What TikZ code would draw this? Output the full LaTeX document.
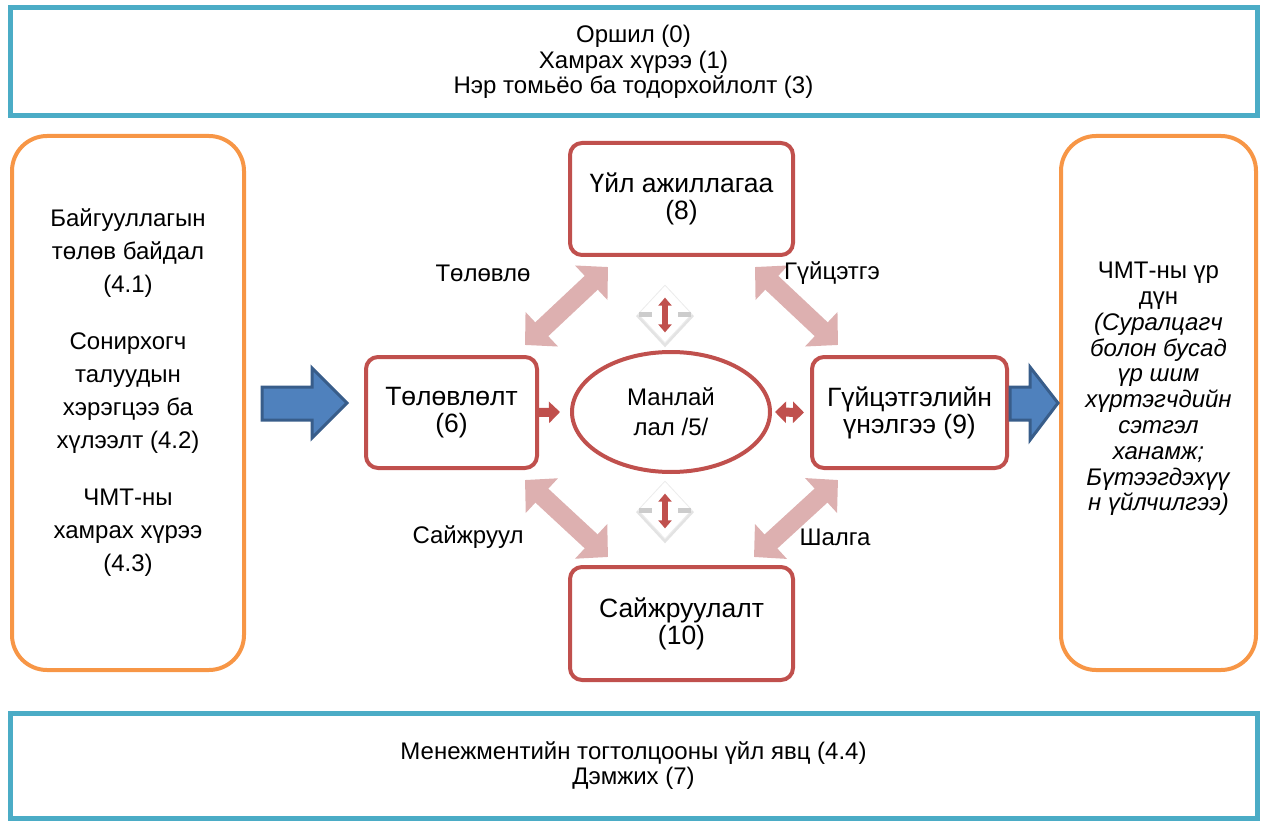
\documentclass[tikz,border=0pt]{standalone}
\usepackage{fontspec}
\setmainfont{Liberation Sans}
\usetikzlibrary{arrows.meta,shapes.geometric,shadows,calc}
\definecolor{tealc}{RGB}{75,172,198}
\definecolor{orangec}{RGB}{247,150,70}
\definecolor{redc}{RGB}{192,80,77}
\definecolor{pinkc}{RGB}{221,176,176}
\definecolor{bluefill}{RGB}{79,129,189}
\definecolor{blueline}{RGB}{56,93,138}
\begin{document}
\begin{tikzpicture}[x=1pt,y=-1pt,
  band/.style={draw=tealc, line width=5pt, minimum width=1247pt, inner sep=0pt,
    align=center, font=\fontsize{24}{25.5}\selectfont},
  sidebox/.style={draw=orangec, line width=4pt, rounded corners=35pt,
    minimum height=534pt, inner sep=0pt},
  stagebox/.style={draw=redc, line width=4pt, rounded corners=12pt, fill=white,
    align=center, inner sep=0pt, font=\fontsize{26.5}{27}\selectfont},
  plain/.style={align=center, inner sep=0pt, font=\fontsize{24}{25.5}\selectfont},
  cyclearrow/.style={draw=pinkc, line width=19pt,
    {Triangle[length=23pt,width=46pt]}-{Triangle[length=23pt,width=46pt]}},
  redtip/.style={draw=redc, line width=9pt},
  gem/.style={diamond, fill=white, draw=gray!14, line width=0.8pt, inner sep=0pt,
    minimum width=54pt, minimum height=58pt,
    drop shadow={shadow xshift=0pt, shadow yshift=-2pt, shadow scale=1.08, opacity=0.22}},
  bigarrow/.style={fill=bluefill, draw=blueline, line width=3pt, line join=miter}
]
\useasboundingbox (0,0) rectangle (1264,821);

% top and bottom bands
\node[band, minimum height=108pt] (intro) at (633.5,62)
  {Оршил (0)\\Хамрах хүрээ (1)\\Нэр томьёо ба тодорхойлолт (3)};
\node[band, minimum height=105pt] (support) at (633.5,765.5)
  {Менежментийн тогтолцооны үйл явц (4.4)\\Дэмжих (7)};

% context and results columns
\node[sidebox, minimum width=232pt] (context) at (128,403) {};
\node[plain, font=\fontsize{24}{33}\selectfont] (contexttext) at (128,393)
  {Байгууллагын\\төлөв байдал\\(4.1)\\[24pt]Сонирхогч\\талуудын\\хэрэгцээ ба\\хүлээлт (4.2)\\[24pt]ЧМТ-ны\\хамрах хүрээ\\(4.3)};
\node[sidebox, minimum width=195pt] (results) at (1158.5,403) {};
\node[plain, font=\fontsize{24}{25.8}\selectfont] (resultstext) at (1158.5,389)
  {ЧМТ-ны үр\\дүн\\\textit{(Суралцагч}\\\textit{болон бусад}\\\textit{үр шим}\\\textit{хүртэгчдийн}\\\textit{сэтгэл}\\\textit{ханамж;}\\\textit{Бүтээгдэхүү}\\\textit{н үйлчилгээ)}};

% PDCA stages
\node[stagebox, minimum width=223pt, minimum height=112pt] (act) at (681.5,199) {Үйл ажиллагаа\\(8)};
\node[stagebox, minimum width=171pt, minimum height=111pt] (plan) at (451.5,412.5) {Төлөвлөлт\\(6)};
\node[stagebox, minimum width=195pt, minimum height=111pt] (eval) at (909.5,412.5) {Гүйцэтгэлийн\\үнэлгээ (9)};
\node[stagebox, minimum width=223pt, minimum height=113pt] (impr) at (681.5,623.5) {Сайжруулалт\\(10)};
\node[ellipse, draw=redc, line width=4pt, fill=white, minimum width=198pt, minimum height=120pt,
  inner sep=0pt, align=center, font=\fontsize{24}{30}\selectfont] (leader) at (671,412) {Манлай\\лал /5/};

% cycle arrows
\draw[cyclearrow] ($(plan.north east)+(-14,-10)$) -- ($(act.south west)+(40,10)$);
\draw[cyclearrow] ($(act.south east)+(-40,10)$) -- ($(eval.north west)+(28,-10)$);
\draw[cyclearrow] ($(plan.south east)+(-14,10)$) -- ($(impr.north west)+(40,-8)$);
\draw[cyclearrow] ($(eval.south west)+(28,10)$) -- ($(impr.north east)+(-41,-8)$);

% cycle labels
\node[plain] (lplan) at (483,273) {Төлөвлө};
\node[plain] (ldo) at (832,273) {Гүйцэтгэ};
\node[plain] (lact) at (468,537) {Сайжруул};
\node[plain] (lcheck) at (835,537) {Шалга};

% links to the leadership ellipse
\draw[redtip, -{Triangle[length=11pt,width=21pt]}] (plan.east) -- ($(leader.west)+(-10,0)$);
\draw[redtip, {Triangle[length=11pt,width=21pt]}-{Triangle[length=11pt,width=21pt]}]
  ($(leader.east)+(3,0)$) -- ($(eval.west)+(-6,0)$);

% up-down markers
\foreach \n/\y in {gtop/314, gbot/510}{
  \node[gem] (\n) at (665,\y) {};
  \fill[gray!40] ($(\n.west)+(1,-2.5)$) rectangle ++(13,5);
  \fill[gray!40] ($(\n.east)+(-14,-2.5)$) rectangle ++(13,5);
  \draw[draw=redc, line width=5.5pt, {Triangle[length=8pt,width=13pt]}-{Triangle[length=8pt,width=13pt]}]
    ($(\n.north)+(0,13)$) -- ($(\n.south)+(0,-11)$);
}

% input and output arrows
\draw[bigarrow] (262,387) -- (312,387) -- (312,368) -- (347,403) -- (312,438) -- (312,420) -- (262,420) -- cycle;
\draw[bigarrow] (1010,387) -- (1030,387) -- (1030,367) -- (1058,403) -- (1030,440) -- (1030,420) -- (1010,420) -- cycle;
\end{tikzpicture}
\end{document}
